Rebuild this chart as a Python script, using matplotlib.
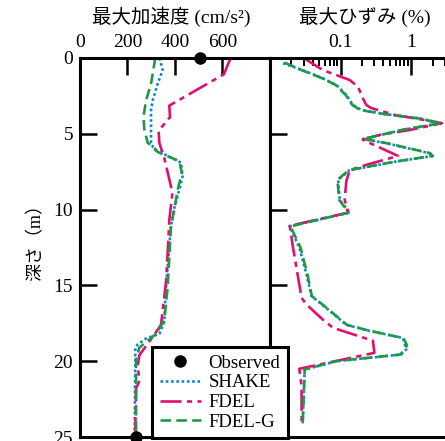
import numpy as np
import matplotlib
matplotlib.use("Agg")
import matplotlib.pyplot as plt
from matplotlib.ticker import FixedLocator, NullFormatter

plt.rcParams['font.family'] = ['Liberation Serif', 'Noto Sans CJK JP']

# ---- data: peak acceleration (cm/s2) vs depth (m)
obs_depth = [0, 25]
obs_acc = [505, 235]

shake_acc_depth = [0, 0.8, 1.7, 2.8, 3.4, 4.7, 5.7, 6.1, 6.4, 6.9, 7.8, 8.7, 9.9,
                   11.1, 12.4, 15.1, 16.3, 17.4, 18.2, 18.5, 18.9, 19.1, 25]
shake_acc = [335, 348, 327, 306, 299, 299, 299, 320, 362, 425, 432, 418, 397,
             383, 376, 362, 358, 355, 334, 278, 243, 233, 230]

fdelg_acc_depth = [0, 1.7, 2.8, 3.9, 4.7, 5.6, 5.8, 6.2, 6.8, 7.6, 8.7, 10.0,
                   11.1, 15.1, 17.3, 18.2, 19.1, 19.9, 25]
fdelg_acc = [317, 299, 278, 267, 271, 285, 306, 327, 418, 429, 411, 397,
             383, 369, 355, 320, 250, 236, 236]

fdel_acc_depth = [0, 1.07, 3.14, 3.9, 4.8, 5.6, 6.6, 8.0, 8.9, 10.7, 12.9, 14.8,
                  16.4, 17.6, 18.4, 19.6, 20.3, 21.3, 21.8, 25]
fdel_acc = [634, 606, 376, 379, 331, 334, 355, 376, 389, 376, 369, 362,
            350, 341, 306, 250, 243, 250, 236, 232]

# ---- data: peak strain (%) vs depth (m)
fdel_str_depth = [0, 0.8, 1.45, 1.9, 2.65, 3.1, 3.3, 3.78, 4.0, 4.3, 4.75, 5.07,
                  5.4, 6.46, 7.05, 7.4, 8.15, 9.35, 10.2, 11.07, 12.4, 15.83,
                  16.27, 17.26, 17.8, 18.65, 19.45, 20.5, 21.65, 24.1]
fdel_str = [0.03, 0.056, 0.134, 0.176, 0.206, 0.23, 0.27, 0.61, 1.18, 2.7, 0.95,
            0.356, 0.206, 0.65, 0.23, 0.134, 0.12, 0.114, 0.127, 0.019, 0.021,
            0.028, 0.033, 0.056, 0.078, 0.286, 0.30, 0.026, 0.028, 0.028]

shake_str_depth = [0.35, 0.8, 1.34, 1.78, 2.44, 3.1, 3.43, 3.71, 3.98, 4.3, 4.74,
                   5.34, 5.62, 6.28, 6.46, 6.83, 7.4, 8.04, 9.35, 10.2, 11.1,
                   12.5, 14.3, 15.7, 16.5, 17.6, 18.0, 18.47, 19.2, 19.56, 20.0,
                   20.55, 24.1]
shake_str = [0.0153, 0.029, 0.056, 0.087, 0.12, 0.149, 0.196, 0.44, 1.31, 2.66,
             0.76, 0.206, 0.44, 1.81, 2.02, 0.61, 0.134, 0.092, 0.097, 0.134,
             0.019, 0.026, 0.033, 0.0385, 0.063, 0.12, 0.257, 0.76, 0.85, 0.72,
             0.087, 0.031, 0.029]

fdelg_str_depth = [0.3, 0.8, 1.34, 1.78, 2.44, 3.1, 3.43, 3.71, 3.98, 4.3, 4.74,
                   5.34, 5.62, 6.28, 6.46, 6.83, 7.4, 8.04, 9.35, 10.2, 11.1,
                   12.5, 14.3, 15.7, 16.5, 17.6, 18.0, 18.47, 18.95, 19.56, 20.0,
                   20.55, 24.1]
fdelg_str = [0.016, 0.028, 0.055, 0.085, 0.118, 0.146, 0.19, 0.43, 1.25, 2.6,
             0.74, 0.21, 0.45, 1.85, 2.0, 0.6, 0.13, 0.09, 0.095, 0.13,
             0.0195, 0.027, 0.034, 0.039, 0.064, 0.122, 0.26, 0.77, 0.87, 0.70,
             0.085, 0.031, 0.029]

BLUE = '#1283d4'
MAG = '#e0106e'
GREEN = '#1e9a46'
st_shake = dict(color=BLUE, lw=1.9, ls=(0, (1, 1)))
st_fdel = dict(color=MAG, lw=1.9, ls=(0, (8, 2, 2, 2)))
st_fdelg = dict(color=GREEN, lw=1.9, ls=(0, (4, 2)))

W, H = 445, 441
fig = plt.figure(figsize=(W / 100, H / 100), dpi=100)

top = 1 - 58 / H
bot = 1 - 437 / H
ax1 = fig.add_axes([80 / W, bot, 190 / W, top - bot])
ax2 = fig.add_axes([270 / W, bot, 212 / W, top - bot])

# left panel
ax1.plot(shake_acc, shake_acc_depth, **st_shake)
ax1.plot(fdel_acc, fdel_acc_depth, **st_fdel)
ax1.plot(fdelg_acc, fdelg_acc_depth, **st_fdelg)
ax1.plot(obs_acc, obs_depth, 'o', color='black', ms=8, ls='none', clip_on=False, zorder=5)
ax1.set_xlim(0, 800)
ax1.set_ylim(25, 0)
ax1.set_xticks([0, 200, 400, 600])
ax1.set_yticks([0, 5, 10, 15, 20, 25])
ax1.xaxis.tick_top()
ax1.tick_params(axis='both', direction='in', length=12, width=1.8, labelsize=14, pad=5)
ax1.tick_params(axis='y', right=False)

# right panel
ax2.plot(shake_str, shake_str_depth, **st_shake)
ax2.plot(fdel_str, fdel_str_depth, **st_fdel)
ax2.plot(fdelg_str, fdelg_str_depth, **st_fdelg)
ax2.set_xscale('log')
ax2.set_xlim(0.01, 10)
ax2.set_ylim(25, 0)
ax2.xaxis.tick_top()
ax2.xaxis.set_major_locator(FixedLocator([0.01, 0.1, 1, 10]))
ax2.set_xticklabels(['', '0.1', '1', ''])
minors = [m * d for d in [0.01, 0.1, 1] for m in range(2, 10)]
ax2.xaxis.set_minor_locator(FixedLocator(minors))
ax2.xaxis.set_minor_formatter(NullFormatter())
ax2.set_yticks([0, 5, 10, 15, 20, 25])
ax2.set_yticklabels([])
ax2.tick_params(axis='both', which='major', direction='in', length=12, width=1.8, labelsize=14, pad=5)
ax2.tick_params(axis='x', which='minor', direction='in', length=6, width=1.4)

for ax in (ax1, ax2):
    for s in ax.spines.values():
        s.set_linewidth(2.2)

fig.text(171 / W, 1 - 17 / H, '最大加速度 (cm/s²)', ha='center', va='center', fontsize=14)
fig.text(365 / W, 1 - 17 / H, '最大ひずみ (%)', ha='center', va='center', fontsize=14)
fig.text(36 / W, 1 - 238 / H, '深さ（m）', rotation=90, ha='center', va='center', fontsize=13)

h_obs, = ax1.plot([], [], 'o', color='black', ms=8, ls='none')
h_sh, = ax1.plot([], [], **st_shake)
h_fd, = ax1.plot([], [], **st_fdel)
h_fg, = ax1.plot([], [], **st_fdelg)
leg = fig.legend([h_obs, h_sh, h_fd, h_fg], ['Observed', 'SHAKE', 'FDEL', 'FDEL-G'],
                 loc='upper left', bbox_to_anchor=(152 / W, 1 - 347 / H),
                 fontsize=13.5, frameon=True, fancybox=False, framealpha=1,
                 edgecolor='black', labelspacing=0.14, handlelength=2.2,
                 handletextpad=0.4, borderpad=0.4, borderaxespad=0)
leg.get_frame().set_linewidth(2.2)

fig.savefig('out.png', dpi=100)
